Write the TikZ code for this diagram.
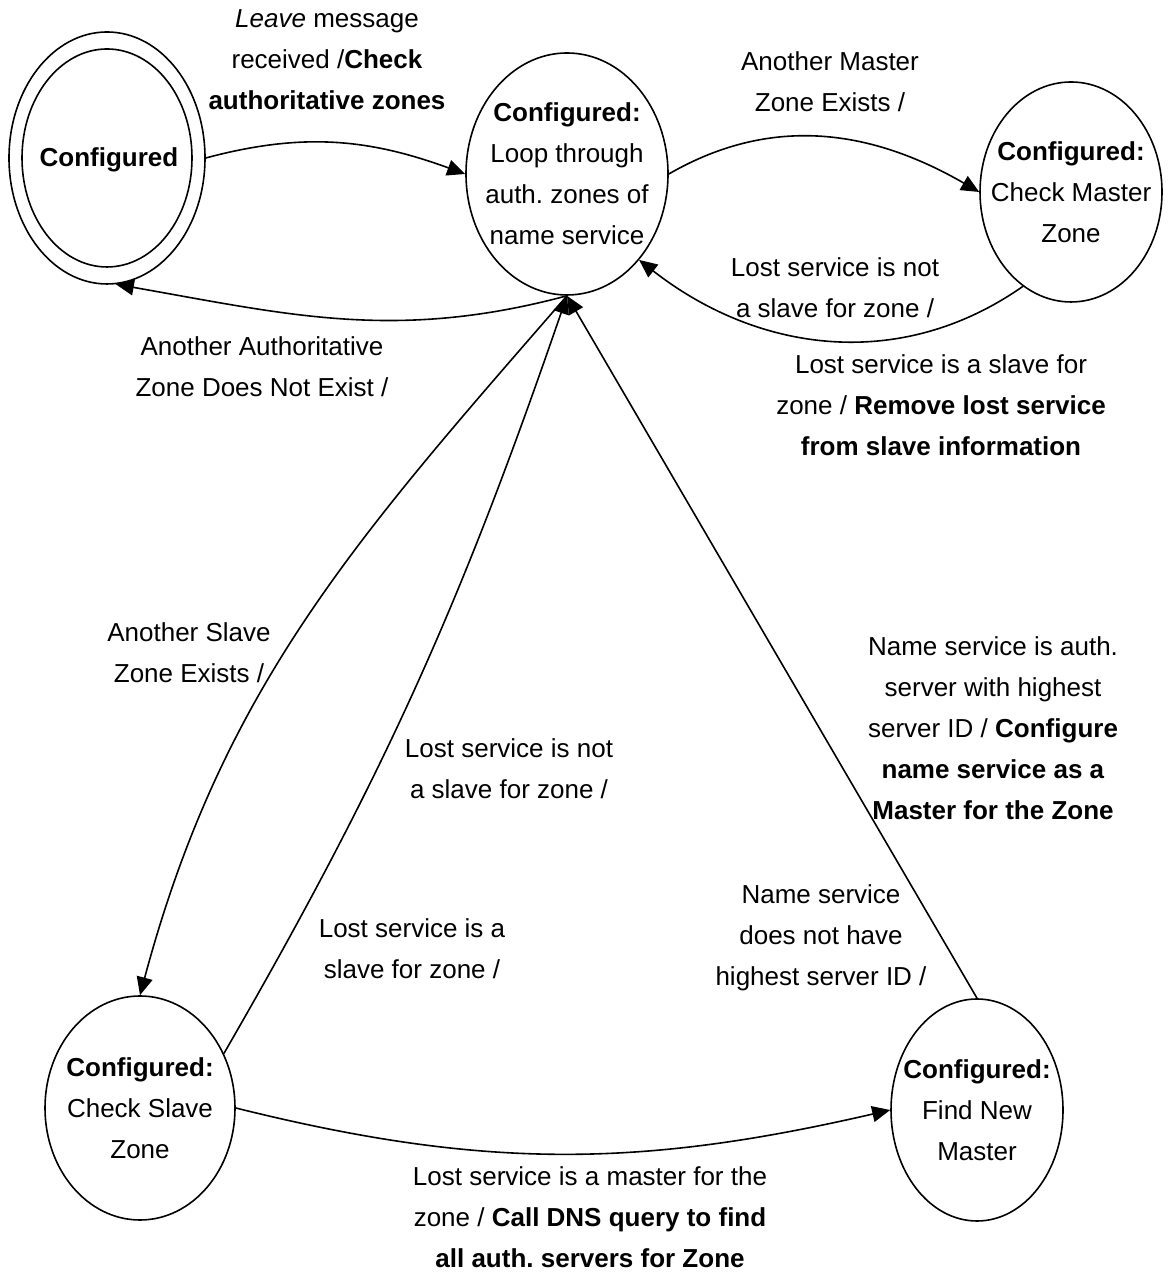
\documentclass[tikz,border=0pt]{standalone}
\usepackage{fontspec}
\setmainfont{Liberation Sans}
\usetikzlibrary{arrows.meta,shapes.geometric}
\begin{document}
\frenchspacing
\begin{tikzpicture}[x=0.5pt,y=0.5pt,
  state/.style={draw,ellipse,line width=0.8pt,inner sep=0pt},
  lbl/.style={align=center,inner sep=0pt,font=\fontsize{13pt}{20.5pt}\selectfont},
  tr/.style={draw,line width=0.8pt,-{Triangle[length=9pt,width=8pt]}}]
\useasboundingbox (0,0) rectangle (1170,1277);
% states
\node[state,minimum width=98pt,minimum height=126pt] (cfg) at (107,1119) {};
\node[state,minimum width=85pt,minimum height=109pt] (cfgin) at (cfg) {};
\node[lbl] (cfgT) at (109,1117) {\textbf{Configured}};
\node[state,minimum width=101pt,minimum height=121pt] (loop) at (567,1103) {};
\node[lbl] (loopT) at (loop) {\textbf{Configured:}\\Loop through\\auth. zones of\\name service};
\node[state,minimum width=91pt,minimum height=110pt] (master) at (1071,1085) {};
\node[lbl] (masterT) at (master) {\textbf{Configured:}\\Check Master\\Zone};
\node[state,minimum width=95pt,minimum height=112pt] (slave) at (140,169) {};
\node[lbl] (slaveT) at (slave) {\textbf{Configured:}\\Check Slave\\Zone};
\node[state,minimum width=86pt,minimum height=111pt] (findm) at (977,167) {};
\node[lbl] (findmT) at (findm) {\textbf{Configured:}\\Find New\\Master};
% labels
\node[lbl] (leave) at (327,1217.5) {\textit{Leave} message\\received /\textbf{Check}\\\textbf{authoritative zones}};
\node[lbl] (amaster) at (830,1195.5) {Another Master\\Zone Exists /};
\node[lbl] (lnot1) at (835,989) {Lost service is not\\a slave for zone /};
\node[lbl] (lslave1) at (941,872) {Lost service is a slave for\\zone / \textbf{Remove lost service}\\\textbf{from slave information}};
\node[lbl] (aauth) at (262,910.5) {Another Authoritative\\Zone Does Not Exist /};
\node[lbl] (aslave) at (189,624) {Another Slave\\Zone Exists /};
\node[lbl] (lnot2) at (509,508) {Lost service is not\\a slave for zone /};
\node[lbl] (lisa) at (412,328) {Lost service is a\\slave for zone /};
\node[lbl] (nauth) at (993,549) {Name service is auth.\\server with highest\\server ID / \textbf{Configure}\\\textbf{name service as a}\\\textbf{Master for the Zone}};
\node[lbl] (ndoes) at (821,339) {Name service\\does not have\\highest server ID /};
\node[lbl] (lmaster) at (590,60) {Lost service is a master for the\\zone / \textbf{Call DNS query to find}\\\textbf{all auth. servers for Zone}};
% transitions
\draw[tr] (cfg.east) to[out=15,in=160] (loop.west);
\draw[tr] (loop.south) to[out=195,in=-10] (cfg.-86);
\draw[tr] (loop.east) to[out=30,in=150] (master.west);
\draw[tr] (master.243) to[out=215,in=-38] (loop.-50);
\draw[tr] (loop.south) to[out=229,in=75] (slave.north);
\draw[tr] (slave.33) to[out=60,in=251] (loop.south);
\draw[tr] (slave.east) to[out=-14,in=193] (findm.west);
\draw[tr] (findm.north) -- (loop.south);
\end{tikzpicture}
\end{document}
